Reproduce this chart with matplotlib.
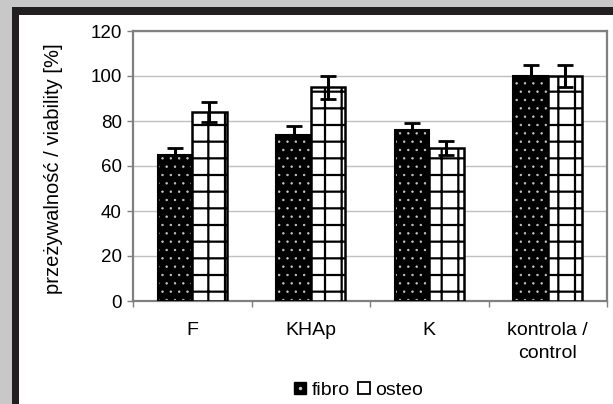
import numpy as np
import matplotlib
matplotlib.use("Agg")
import matplotlib.pyplot as plt
from matplotlib.patches import Rectangle
from matplotlib.lines import Line2D

# data
groups = ["F", "KHAp", "K", "kontrola /\ncontrol"]
fibro = [65, 74, 76, 100]
fibro_err = [3.2, 4, 3, 5]
osteo = [84, 95, 68, 100]
osteo_err = [4.5, 5, 3.3, 5]
yticks = [0, 20, 40, 60, 80, 100, 120]

plt.rcParams['font.family'] = ['Liberation Sans', 'DejaVu Sans']

fig = plt.figure(figsize=(6.13, 4.04), dpi=100)
fig.patch.set_facecolor('#c8c8c8')

# black frame + white panel (figure decoration)
fig.patches.append(Rectangle((12 / 613, 0), 1, 1 - 7 / 404, transform=fig.transFigure,
                             facecolor='#231f20', edgecolor='none', zorder=-2))
fig.patches.append(Rectangle((19 / 613, 0), 1, 1 - 15 / 404, transform=fig.transFigure,
                             facecolor='white', edgecolor='none', zorder=-1))

ax = fig.add_axes([133 / 613, 1 - 301 / 404, (607 - 133) / 613, (301 - 31) / 404])
ax.set_facecolor('white')

x = np.arange(len(groups)) + 0.5
w = 0.29

# fibro: black with white dots
ax.errorbar(x - w / 2, fibro, yerr=fibro_err, fmt='none', ecolor='black',
            elinewidth=2.2, capsize=6, capthick=2, zorder=2)
with plt.rc_context({'hatch.linewidth': 0.5}):
    ax.bar(x - w / 2, fibro, w, color='black', edgecolor='#c8c8c8', hatch='..',
           linewidth=0, zorder=3)
ax.bar(x - w / 2, fibro, w, fill=False, edgecolor='black', linewidth=1.5, zorder=3)

# osteo: white with black grid
with plt.rc_context({'hatch.linewidth': 1.6}):
    ax.bar(x + w / 2, osteo, w, color='white', edgecolor='black', hatch='+',
           linewidth=0, zorder=3)
ax.bar(x + w / 2, osteo, w, fill=False, edgecolor='black', linewidth=1.8, zorder=3)
ax.errorbar(x + w / 2, osteo, yerr=osteo_err, fmt='none', ecolor='black',
            elinewidth=2.2, capsize=6, capthick=2, zorder=4)

ax.set_xlim(0, len(groups))
ax.set_ylim(0, 120)
ax.set_yticks(yticks)
ax.yaxis.grid(True, color='#c0c0c0', linewidth=1)
ax.set_axisbelow(True)

# category boundaries as ticks, labels at centers
ax.set_xticks(np.arange(len(groups) + 1))
ax.set_xticklabels([])
ax.set_xticks(x, minor=True)
ax.set_xticklabels(groups, minor=True, fontsize=14, linespacing=1.45)
ax.tick_params(axis='x', which='minor', length=0, pad=15)
ax.tick_params(axis='x', which='major', length=4, color='#808080', width=1)
ax.tick_params(axis='y', length=4, color='#808080', width=1, labelsize=13.5, pad=4)

for s in ax.spines.values():
    s.set_color('#808080')
    s.set_linewidth(1.6)

ax.set_ylabel("przeżywalność / viability [%]", fontsize=14.5)
ax.yaxis.set_label_coords(-0.148, 0.49)

h1 = (Line2D([], [], marker='s', color='black', markersize=8, linestyle='none'),
      Line2D([], [], marker='o', color='#c8c8c8', markersize=1.5, linestyle='none'))
h2 = Line2D([], [], marker='s', markerfacecolor='white', markeredgecolor='black',
            markeredgewidth=1.3, markersize=8, linestyle='none')
fig.legend([h1, h2], ["fibro", "osteo"], loc='center', bbox_to_anchor=(359 / 613, 1 - 390 / 404),
           ncol=2, frameon=False, fontsize=14, handlelength=0.6,
           handletextpad=0.3, columnspacing=0.4, borderpad=0)

fig.savefig("out.png", dpi=100, facecolor=fig.get_facecolor())
